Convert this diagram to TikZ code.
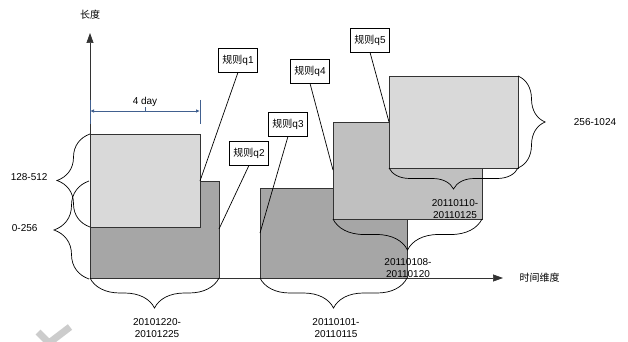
\documentclass[tikz,border=0pt]{standalone}
\usepackage{fontspec}
\setmainfont{Liberation Sans}
\newfontfamily\cjk{Noto Sans CJK SC}
\usetikzlibrary{arrows.meta,decorations.pathreplacing}
\definecolor{darkbar}{HTML}{A6A6A6}
\definecolor{midbar}{HTML}{C0C0C0}
\definecolor{lightbar}{HTML}{D9D9D9}
\definecolor{dimblue}{HTML}{41608F}
\begin{document}
\begin{tikzpicture}[x=1pt,y=-1pt,font=\fontsize{10}{12}\selectfont,
  bar/.style={draw=black!80, line width=0.8pt},
  rulebox/.style={draw, fill=white, line width=0.7pt, inner xsep=4pt, minimum height=24pt},
  brc/.style={decorate, decoration={brace, amplitude=#1}, line width=0.7pt},
  lbl/.style={align=center}]
  \useasboundingbox (0,0) rectangle (628,342);
  % axes
  \draw[-{Triangle[length=10pt,width=7pt]}, line width=0.7pt, black!80] (90,278) -- (90,33);
  \node (ylab) at (90,15) {\cjk 长度};
  \draw[-{Triangle[length=10pt,width=7pt]}, line width=0.7pt, black!80] (90,278) -- (503,278);
  \node[anchor=west] (xlab) at (516,278) {\cjk 时间维度};
  % bars
  \draw[bar, fill=darkbar] (90,181) rectangle (219,278);
  \draw[bar, fill=lightbar] (90,134) rectangle (200,227);
  \draw[bar, fill=darkbar] (260,188) rectangle (407,278);
  \draw[bar, fill=midbar] (333,122) rectangle (482,219);
  \draw[bar, fill=lightbar] (389,76) rectangle (518,168);
  % 4 day
  \draw[dimblue, line width=0.8pt] (90,100) -- (90,124);
  \draw[dimblue, line width=0.8pt] (200,100) -- (200,124);
  \draw[dimblue, line width=0.8pt, {Latex[length=4pt,width=3.5pt]}-{Latex[length=4pt,width=3.5pt]}] (90,111) -- (200,111);
  \draw[dimblue, line width=0.8pt] (145,107) -- (145,111);
  \node (days) at (145,102) {4 day};
  % braces
  \draw[brc=33] (90,227) -- (90,134);
  \node[anchor=east] (r1) at (51,177) {128-512};
  \draw[brc=35] (89,279) -- (89,181);
  \node[anchor=east] (r2) at (41,228) {0-256};
  \draw[brc=27] (518,76) -- (518,168);
  \node (r3) at (595,122) {256-1024};
  \draw[brc=30] (219,278) -- (90,278);
  \node[lbl] (t1) at (157,328) {20101220-\\20101225};
  \draw[brc=30] (407,278) -- (260,278);
  \node[lbl] (t2) at (336,328) {20110101-\\20110115};
  \draw[brc=31] (482,219) -- (333,219);
  \node[lbl] (t3) at (408,268) {20110108-\\20110120};
  \draw[brc=21] (518,168) -- (389,168);
  \node[lbl] (t4) at (455,209) {20110110-\\20110125};
  % rules
  \node[rulebox] (q1) at (238,60) {{\cjk 规则}q1};
  \node[rulebox] (q2) at (249,153) {{\cjk 规则}q2};
  \node[rulebox] (q3) at (288,124) {{\cjk 规则}q3};
  \node[rulebox] (q4) at (310,71) {{\cjk 规则}q4};
  \node[rulebox] (q5) at (370,40) {{\cjk 规则}q5};
  \coordinate (e1) at (200,181);
  \coordinate (e2) at (219,229);
  \coordinate (e3) at (260,233);
  \coordinate (e4) at (333,170);
  \coordinate (e5) at (389,122);
  \foreach \i in {1,...,5} \draw[line width=0.7pt] (q\i.south) -- (e\i);
  % mark
  \draw[gray!40, line width=7pt] (38,332) -- (49,343) -- (70,327);
\end{tikzpicture}
\end{document}
